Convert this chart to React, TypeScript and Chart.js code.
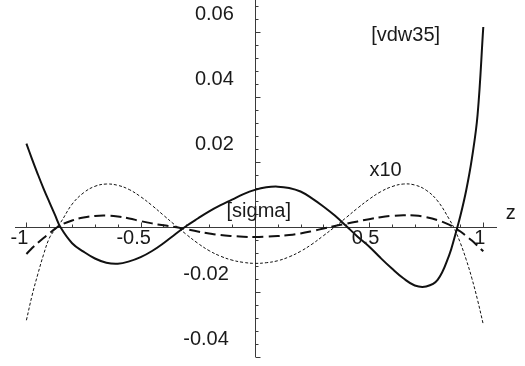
import React, { useEffect, useRef } from "react";
import { Chart, registerables } from "chart.js";

Chart.register(...registerables);

// z positions shared by all curves
const Z = [
  -1, -0.975, -0.95, -0.925, -0.9, -0.875, -0.85, -0.8, -0.75, -0.7, -0.65, -0.6,
  -0.55, -0.5, -0.45, -0.4, -0.35, -0.3, -0.25, -0.2, -0.15, -0.1, -0.05, 0,
  0.05, 0.1, 0.15, 0.2, 0.25, 0.3, 0.35, 0.4, 0.45, 0.5, 0.55, 0.6, 0.65, 0.7,
  0.75, 0.8, 0.85, 0.875, 0.9, 0.925, 0.95, 0.975, 1,
];

// solid curve
const SIGMA = [
  0.0256, 0.0208, 0.0162, 0.0118, 0.0077, 0.0037, -0.0002, -0.005, -0.0076, -0.0097, -0.011, -0.0113,
  -0.0106, -0.0093, -0.0074, -0.005, -0.0023, 0.0003, 0.0026, 0.0048, 0.0067, 0.0084, 0.0101, 0.0114,
  0.0122, 0.0124, 0.012, 0.0109, 0.0088, 0.0063, 0.0035, 0.0003, -0.003, -0.006, -0.0095, -0.0128, -0.0158, -0.018,
  -0.0183, -0.0163, -0.0088, -0.003, 0.0035, 0.0112, 0.021, 0.0345, 0.0615,
];

// long-dashed curve
const DASHED = [
  -0.0083, -0.0065, -0.0049, -0.0034, -0.002, -0.0006, 0.0006, 0.002, 0.0029, 0.0034, 0.0035, 0.0032,
  0.0026, 0.0018, 0.0011, 0.0005, 0.0, -0.0007, -0.0014, -0.002, -0.0025, -0.0028, -0.003, -0.0031,
  -0.003, -0.0028, -0.0025, -0.002, -0.0013, -0.0005, 0.0003, 0.001, 0.0017, 0.0024, 0.003, 0.0034, 0.0036, 0.0035,
  0.003, 0.0021, 0.0007, -0.0003, -0.0014, -0.0028, -0.0042, -0.0058, -0.0075,
];

// fine-dotted curve (x10)
const DOTTED = [
  -0.0287, -0.021, -0.0145, -0.0085, -0.0035, -0.0008, 0.0014, 0.007, 0.0105, 0.0125, 0.0132, 0.0128,
  0.0115, 0.0093, 0.0066, 0.0036, 0.0006, -0.0023, -0.005, -0.0073, -0.009, -0.0102, -0.0109, -0.0112,
  -0.011, -0.0104, -0.0092, -0.0075, -0.0053, -0.0027, 0.0, 0.0029, 0.0058, 0.0085, 0.0108, 0.0124, 0.0132, 0.0129,
  0.0113, 0.008, 0.0025, -0.0008, -0.005, -0.01, -0.0158, -0.0225, -0.03,
];

const X_TICKS = [-1, -0.5, 0.5, 1];
const X_TICK_LABELS = ["-1", "-0.5", "0.5", "1"];
const Y_TICKS = [-0.04, -0.02, 0.02, 0.04, 0.06];
const Y_TICK_LABELS = ["-0.04", "-0.02", "0.02", "0.04", "0.06"];

const NOTE_TEXTS = ["[vdw35]", "x10", "[sigma]", "z"];
const NOTE_Z = [0.66, 0.572, 0.017, 1.12];
const NOTE_V = [0.059, 0.0175, 0.0049, 0.004];

const FONT = '20px "Liberation Sans", Arial, Helvetica, sans-serif';

const axesPlugin = {
  id: "mathAxes",
  beforeDatasetsDraw(chart: any) {
    const { ctx } = chart;
    const xs = chart.scales.x;
    const ys = chart.scales.y;
    const x0 = Math.round(xs.getPixelForValue(0)) + 0.5;
    const y0 = Math.round(ys.getPixelForValue(0)) + 0.5;
    ctx.save();
    ctx.strokeStyle = "#3a3a3a";
    ctx.lineWidth = 1;
    ctx.beginPath();
    ctx.moveTo(xs.left, y0);
    ctx.lineTo(xs.right, y0);
    ctx.moveTo(x0, ys.top);
    ctx.lineTo(x0, ys.bottom);
    for (let i = -10; i <= 10; i++) {
      if (i === 0) continue;
      const px = Math.round(xs.getPixelForValue(i / 10)) + 0.5;
      const len = i % 5 === 0 ? 5 : 3;
      ctx.moveTo(px, y0);
      ctx.lineTo(px, y0 - len);
    }
    for (let i = -10; i <= 17; i++) {
      if (i === 0) continue;
      const py = Math.round(ys.getPixelForValue(i * 0.004)) + 0.5;
      const len = i % 5 === 0 ? 5 : 3;
      ctx.moveTo(x0, py);
      ctx.lineTo(x0 + len, py);
    }
    ctx.stroke();
    ctx.restore();
  },
  afterDatasetsDraw(chart: any) {
    const { ctx } = chart;
    const xs = chart.scales.x;
    const ys = chart.scales.y;
    const x0 = xs.getPixelForValue(0);
    const y0 = ys.getPixelForValue(0);
    ctx.save();
    ctx.font = FONT;
    ctx.fillStyle = "#1a1a1a";
    ctx.textBaseline = "middle";
    ctx.textAlign = "center";
    X_TICKS.forEach((v, i) => {
      const px = xs.getPixelForValue(v);
      ctx.fillText(X_TICK_LABELS[i], px + (v < 0 ? -7 : -3.5), y0 + 12);
    });
    ctx.textAlign = "right";
    Y_TICKS.forEach((v, i) => {
      const py = ys.getPixelForValue(v);
      ctx.fillText(Y_TICK_LABELS[i], x0 - (v < 0 ? 26 : 21), py - 17.5);
    });
    ctx.textAlign = "center";
    NOTE_TEXTS.forEach((t, i) => {
      ctx.fillText(t, xs.getPixelForValue(NOTE_Z[i]), ys.getPixelForValue(NOTE_V[i]));
    });
    ctx.restore();
  },
};

export default function App() {
  const ref = useRef<HTMLCanvasElement | null>(null);
  useEffect(() => {
    if (!ref.current) return;
    const mk = (vals: number[]) => Z.map((z, i) => ({ x: z, y: vals[i] }));
    const chart = new Chart(ref.current, {
      type: "line",
      data: {
        datasets: [
          {
            label: "dotted",
            data: mk(DOTTED),
            borderColor: "#111",
            borderWidth: 1,
            borderDash: [3, 2],
            pointRadius: 0,
            tension: 0.4,
            fill: false,
          },
          {
            label: "dashed",
            data: mk(DASHED),
            borderColor: "#111",
            borderWidth: 2,
            borderDash: [11, 5],
            pointRadius: 0,
            tension: 0.4,
            fill: false,
          },
          {
            label: "sigma",
            data: mk(SIGMA),
            borderColor: "#111",
            borderWidth: 2,
            pointRadius: 0,
            tension: 0.4,
            fill: false,
          },
        ],
      },
      options: {
        animation: false,
        responsive: false,
        devicePixelRatio: 1,
        layout: { padding: { left: 15, right: 28, top: 0, bottom: 9 } },
        plugins: { legend: { display: false }, tooltip: { enabled: false }, title: { display: false } },
        scales: {
          x: { type: "linear", min: -1.05, max: 1.06, display: false },
          y: { type: "linear", min: -0.04, max: 0.0698, display: false },
        },
      },
      plugins: [axesPlugin],
    });
    return () => chart.destroy();
  }, []);
  return (
    <div style={{ position: "fixed", left: 0, top: 0, width: 525, height: 366, background: "#fff" }}>
      <canvas ref={ref} width={525} height={366} />
    </div>
  );
}
